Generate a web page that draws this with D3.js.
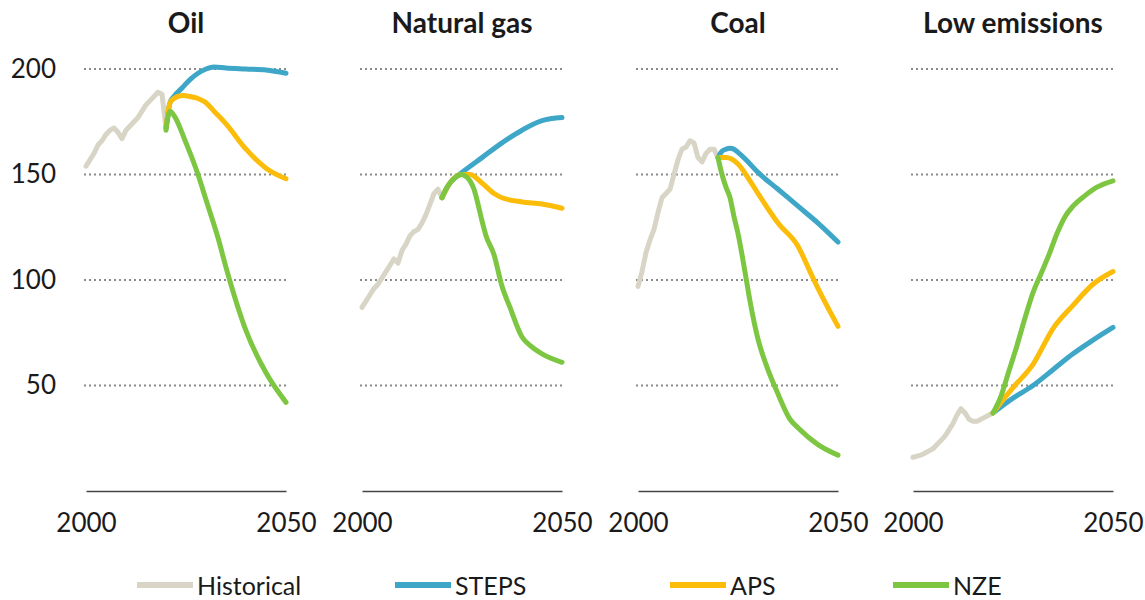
<!DOCTYPE html>
<html>
<head>
<meta charset="utf-8">
<script src="https://cdn.jsdelivr.net/npm/d3@7"></script>
<style>
  body { margin: 0; background: #fff; }
  text { font-family: Lato, "Open Sans", sans-serif; fill: #1a1a1a; }
</style>
</head>
<body>
<script>
// panels and series
const panels = ["Oil", "Natural gas", "Coal", "Low emissions"];
const seriesNames = ["Historical", "STEPS", "APS", "NZE"];
const seriesColors = ["#d8d5c7", "#3ea7c8", "#fbbd09", "#7dc642"];
const yTicks = [50, 100, 150, 200];
const xTicks = [2000, 2050];

const histYears = [2000, 2001, 2002, 2003, 2004, 2005, 2006, 2007, 2008, 2009, 2010,
                   2011, 2012, 2013, 2014, 2015, 2016, 2017, 2018, 2019, 2020];

// historical values per panel
const oilHist  = [154, 157, 160, 164, 166, 169, 171, 172, 170, 167, 171, 173, 175, 177, 180, 183, 185, 187, 189, 188, 172];
const gasHist  = [87, 90, 93, 96, 98, 101, 104, 107, 110, 108, 114, 117, 121, 123, 124, 127, 131, 136, 141, 143, 139];
const coalHist = [97, 104, 113, 119, 124, 132, 139, 141, 143, 150, 157, 162, 163, 166, 165, 158, 156, 160, 162, 162, 158];
const lowHist  = [16, 16.5, 17, 18, 19, 20, 22, 24, 26, 29, 32, 36, 39, 37, 34, 33, 33, 34, 35, 36, 37];

// scenarios [year, value]
const oilSteps = [[2020, 172], [2021, 184], [2022, 187], [2024, 191], [2026, 195], [2028, 198], [2030, 200], [2032, 201], [2035, 200.5], [2040, 200], [2045, 199.5], [2050, 198]];
const oilAps   = [[2020, 172], [2021, 184], [2022, 186], [2024, 187.5], [2026, 187], [2028, 186], [2030, 184], [2032, 180], [2035, 174], [2040, 162], [2045, 153], [2050, 148]];
const oilNze   = [[2020, 171], [2021, 180], [2022, 178], [2025, 165], [2028, 150], [2030, 138], [2033, 120], [2035, 106], [2040, 76], [2045, 56], [2050, 42]];

const gasSteps = [[2020, 139], [2021, 143], [2022, 146], [2023, 148], [2025, 151], [2030, 158], [2035, 165], [2040, 171], [2045, 175.5], [2050, 177]];
const gasAps   = [[2020, 139], [2022, 146], [2025, 150], [2027, 150], [2030, 146], [2033, 141], [2035, 139], [2040, 137], [2045, 136], [2050, 134]];
const gasNze   = [[2020, 139], [2021, 143], [2022, 146], [2023, 148], [2024, 149.5], [2025, 150], [2026, 149], [2027, 147], [2028, 143], [2029, 136], [2030, 128], [2031, 121], [2033, 112], [2035, 97], [2037, 87], [2040, 73], [2042, 69], [2045, 65], [2050, 61]];

const coalSteps = [[2020, 158], [2021, 161], [2022, 162], [2023, 162.5], [2024, 162], [2025, 160.5], [2027, 157], [2030, 151], [2035, 143], [2040, 135], [2045, 127], [2050, 118]];
const coalAps   = [[2020, 158], [2022, 158], [2025, 155], [2028, 147], [2030, 141], [2035, 127], [2040, 116], [2043, 104], [2045, 96], [2048, 85], [2050, 78]];
const coalNze   = [[2020, 158], [2021, 150], [2022, 144], [2023, 139], [2024, 130], [2025, 122], [2026, 112], [2027, 101], [2028, 90], [2030, 72], [2032, 60], [2035, 46], [2038, 34], [2040, 30], [2045, 22], [2050, 17]];

const lowSteps = [[2020, 37], [2025, 44], [2030, 50], [2035, 57.5], [2040, 65], [2045, 71.5], [2050, 77.5]];
const lowAps   = [[2020, 37], [2022, 42], [2025, 49], [2030, 60], [2035, 77], [2040, 88], [2045, 98], [2050, 104]];
const lowNze   = [[2020, 37], [2022, 45], [2024, 57], [2026, 69], [2028, 82], [2030, 94], [2032, 103], [2034, 112], [2036, 122], [2038, 130], [2040, 135], [2043, 140], [2046, 144], [2050, 147]];

const histData = [oilHist, gasHist, coalHist, lowHist];
const scenData = [
  [oilSteps, oilAps, oilNze],
  [gasSteps, gasAps, gasNze],
  [coalSteps, coalAps, coalNze],
  [lowSteps, lowAps, lowNze]
];

const W = 1145, H = 600;
const panelLeft = [86, 362, 638, 913];
const panelW = 200;

const svg = d3.select("body").append("svg")
  .attr("width", W)
  .attr("height", H);

const y = d3.scaleLinear().domain([0, 200]).range([491, 69]);

const line = d3.line()
  .x(d => d.x)
  .y(d => y(d.v));

panels.forEach((name, i) => {
  const x = d3.scaleLinear().domain([2000, 2050]).range([panelLeft[i], panelLeft[i] + panelW]);
  const g = svg.append("g");

  // dotted gridlines
  g.selectAll("line.grid")
    .data(yTicks)
    .enter()
    .append("line")
    .attr("class", "grid")
    .attr("x1", x(2000) - 2)
    .attr("x2", x(2050) + 3)
    .attr("y1", d => y(d))
    .attr("y2", d => y(d))
    .attr("stroke", "#8a8a8a")
    .attr("stroke-width", 2)
    .attr("stroke-dasharray", "2,3");

  // baseline axis
  const xAxis = d3.axisBottom(x).tickValues(xTicks).tickSize(0).tickFormat(d3.format("d"));
  const ax = g.append("g")
    .attr("transform", "translate(0," + y(0) + ")")
    .call(xAxis);
  ax.select(".domain").attr("stroke", "#444").attr("stroke-width", 1.5);
  ax.selectAll("text")
    .attr("y", 41)
    .attr("dy", 0)
    .style("font-size", "26px")
    .attr("fill", "#1a1a1a");

  // title
  g.append("text")
    .attr("x", x(2025))
    .attr("y", 33)
    .attr("text-anchor", "middle")
    .style("font-size", "28px")
    .style("font-weight", "bold")
    .text(name);

  // historical
  const hist = histYears.map((yr, k) => ({ x: x(yr), v: histData[i][k] }));
  g.append("path")
    .attr("d", line.curve(d3.curveLinear)(hist))
    .attr("fill", "none")
    .attr("stroke", seriesColors[0])
    .attr("stroke-width", 5)
    .attr("stroke-linejoin", "round")
    .attr("stroke-linecap", "round");

  // scenarios
  scenData[i].forEach((s, j) => {
    const pts = s.map(d => ({ x: x(d[0]), v: d[1] }));
    g.append("path")
      .attr("d", line.curve(d3.curveMonotoneX)(pts))
      .attr("fill", "none")
      .attr("stroke", seriesColors[j + 1])
      .attr("stroke-width", 5)
      .attr("stroke-linejoin", "round")
      .attr("stroke-linecap", "round");
  });
});

// y axis labels (first panel only)
const yAxis = d3.axisLeft(y).tickValues(yTicks).tickSize(0).tickPadding(0);
const ya = svg.append("g")
  .attr("transform", "translate(56,0)")
  .call(yAxis);
ya.select(".domain").remove();
ya.selectAll("text")
  .style("font-size", "26px")
  .attr("fill", "#1a1a1a");

// legend
const legendX = [137, 395, 670, 893];
const leg = svg.append("g");
seriesNames.forEach((n, i) => {
  leg.append("line")
    .attr("x1", legendX[i])
    .attr("x2", legendX[i] + 56)
    .attr("y1", 585)
    .attr("y2", 585)
    .attr("stroke", seriesColors[i])
    .attr("stroke-width", 6);
  leg.append("text")
    .attr("x", legendX[i] + 60)
    .attr("y", 595)
    .style("font-size", "25px")
    .text(n);
});
</script>
</body>
</html>
